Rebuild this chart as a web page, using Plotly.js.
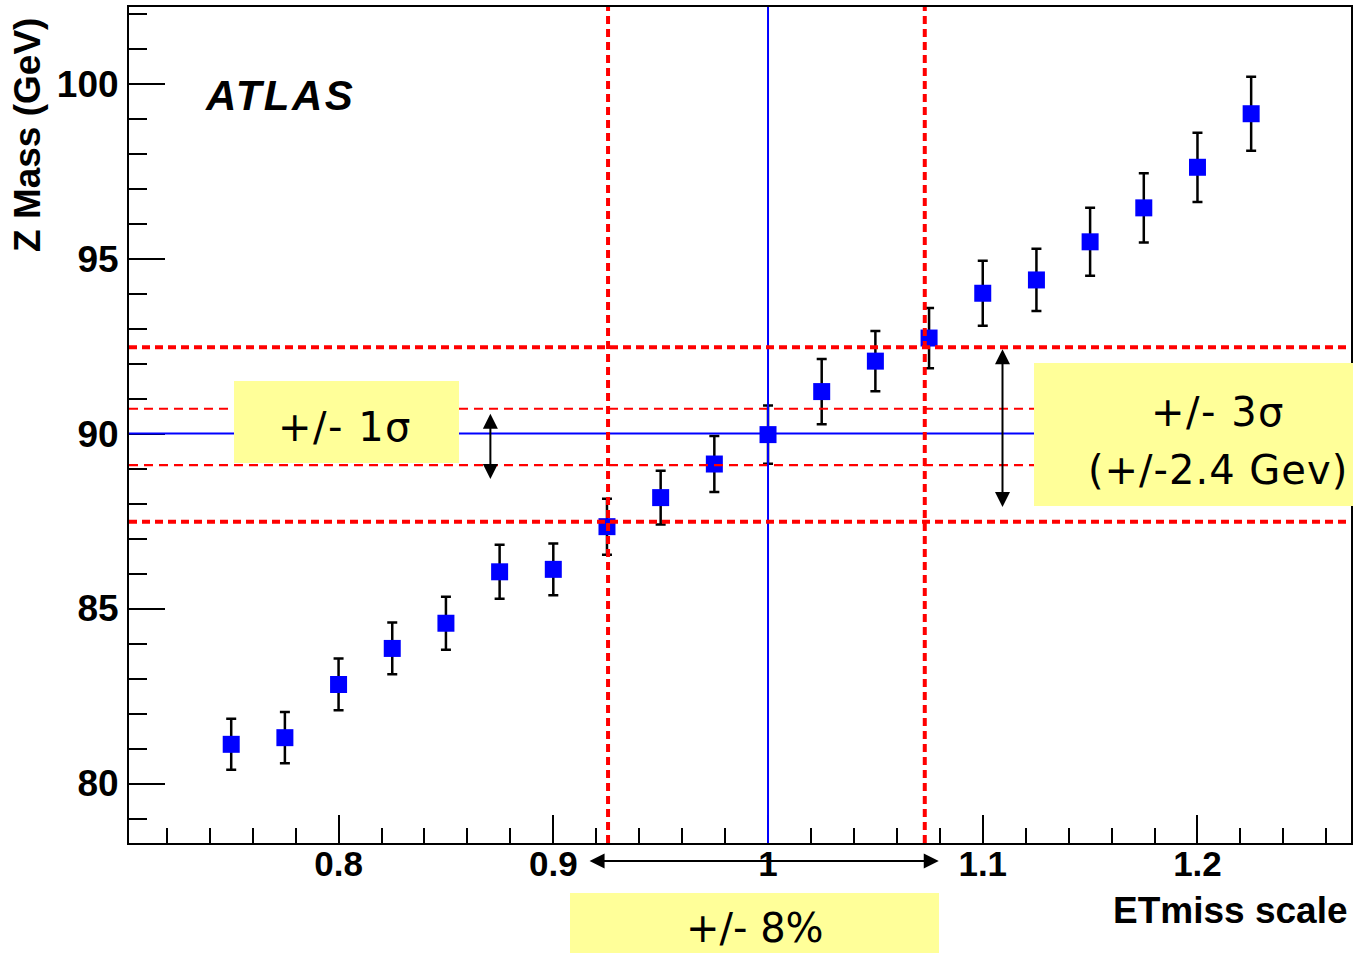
<!DOCTYPE html>
<html>
<head>
<meta charset="utf-8">
<script src="https://cdn.plot.ly/plotly-3.0.1.min.js"></script>
<style>
html,body{margin:0;padding:0;background:#fff;}
#chart{width:1353px;height:953px;}
</style>
</head>
<body>
<div id="chart"></div>
<script>
// ---- data ----
const etScale  = [0.75, 0.775, 0.8, 0.825, 0.85, 0.875, 0.9, 0.925, 0.95, 0.975,
                  1.0, 1.025, 1.05, 1.075, 1.1, 1.125, 1.15, 1.175, 1.2, 1.225];
const zMass    = [81.12, 81.31, 82.83, 83.86, 84.58, 86.05, 86.12, 87.34, 88.17, 89.13,
                  89.97, 91.2, 92.07, 92.73, 94.01, 94.39, 95.48, 96.45, 97.61, 99.14];
const zMassErr = [0.73, 0.73, 0.74, 0.74, 0.76, 0.77, 0.74, 0.80, 0.77, 0.80,
                  0.83, 0.93, 0.86, 0.86, 0.93, 0.89, 0.97, 0.99, 0.99, 1.06];

// reference lines
const nominalScale = 1.0;
const nominalMass  = 90;
const scaleBand    = [0.9255, 1.073];   // +/- 8% vertical lines
const mass1Sigma   = [89.1, 90.71];     // +/- 1 sigma
const mass3Sigma   = [87.48, 92.47];    // +/- 3 sigma
const arrow1Sigma  = {x: 0.8707, y: [90.57, 88.66]};
const arrow3Sigma  = {x: 1.1092, y: [92.41, 87.86]};
const arrow8pct    = {x: [0.9162, 1.0795]};

// text labels
const labels = {
  atlas: 'ATLAS',
  oneSigma: '+/- 1σ',
  threeSigma: '+/- 3σ',
  threeSigmaGev: '(+/-2.4 Gev)',
  eightPct: '+/- 8%',
  xTitle: 'ETmiss scale',
  yTitle: 'Z Mass (GeV)'
};

// ---- layout helpers (pixel -> paper) ----
const L = 129, R = 1351, T = 7, B = 843;
const px = v => (v - L) / (R - L);
const py = v => (B - v) / (B - T);

const trace = {
  x: etScale, y: zMass, type: 'scatter', mode: 'markers',
  marker: {symbol: 'square', size: 17, color: '#0000ff', line: {width: 0}},
  error_y: {type: 'data', array: zMassErr, visible: true, color: '#000', thickness: 2.5, width: 5},
  cliponaxis: false,
  showlegend: false
};

const shapes = [];
const red = '#ff0000';
// thin 1 sigma
mass1Sigma.forEach(v => shapes.push({type: 'line', layer: 'above', xref: 'paper', x0: 0, x1: 1, yref: 'y', y0: v, y1: v,
  line: {color: red, width: 2.2, dash: '9px,6px'}}));
// blue nominal lines
shapes.push({type: 'line', layer: 'above', xref: 'paper', x0: 0, x1: 1, yref: 'y', y0: nominalMass, y1: nominalMass,
  line: {color: '#0000ff', width: 2}});
shapes.push({type: 'line', layer: 'above', xref: 'x', x0: nominalScale, x1: nominalScale, yref: 'paper', y0: 0, y1: 1,
  line: {color: '#0000ff', width: 2}});
// thick 3 sigma
mass3Sigma.forEach(v => shapes.push({type: 'line', layer: 'above', xref: 'paper', x0: 0, x1: 1, yref: 'y', y0: v, y1: v,
  line: {color: red, width: 4, dash: '8px,5px'}}));
// thick scale band
scaleBand.forEach(v => shapes.push({type: 'line', layer: 'above', xref: 'x', x0: v, x1: v, yref: 'paper', y0: 0, y1: 1,
  line: {color: red, width: 4, dash: '8px,5px'}}));
// yellow boxes
const yellow = '#ffff99';
const box = (x0, x1, y0, y1) => ({type: 'rect', layer: 'above', xref: 'paper', yref: 'paper',
  x0: px(x0), x1: px(x1), y0: py(y1), y1: py(y0), fillcolor: yellow, line: {width: 0}});
shapes.push(box(234, 459, 381, 463));
shapes.push(box(1034, 1355, 363, 506));
shapes.push(box(570, 939, 893, 960));

const boxFont = s => ({family: 'DejaVu Sans, Verdana, sans-serif', size: s, color: '#000'});
const sp = (t, ls) => '<span style="letter-spacing:' + ls + 'px">' + t + '</span>';

const annotations = [
  {xref: 'paper', yref: 'paper', x: px(203), y: py(95), xanchor: 'left', yanchor: 'middle', showarrow: false,
   text: sp(labels.atlas, 2.5), font: {family: 'Liberation Sans, Arial, sans-serif', size: 42, weight: 'bold', style: 'italic', color: '#000'}},
  {xref: 'paper', yref: 'paper', x: px(345), y: py(427), xanchor: 'center', yanchor: 'middle', showarrow: false,
   text: sp(labels.oneSigma, 1.5), font: boxFont(40)},
  {xref: 'paper', yref: 'paper', x: px(1218), y: py(412), xanchor: 'center', yanchor: 'middle', showarrow: false,
   text: sp(labels.threeSigma, 1.5), font: boxFont(40)},
  {xref: 'paper', yref: 'paper', x: px(1218), y: py(470), xanchor: 'center', yanchor: 'middle', showarrow: false,
   text: sp(labels.threeSigmaGev, 1), font: boxFont(40)},
  {xref: 'paper', yref: 'paper', x: px(755), y: py(928), xanchor: 'center', yanchor: 'middle', showarrow: false,
   text: labels.eightPct, font: boxFont(40)},
  {xref: 'paper', yref: 'paper', x: px(1349), y: py(910), xanchor: 'right', yanchor: 'middle', showarrow: false,
   text: labels.xTitle, font: {family: 'Liberation Sans, Arial, sans-serif', size: 37, weight: 'bold', color: '#000'}},
  {xref: 'paper', yref: 'paper', x: px(27), y: py(135), xanchor: 'center', yanchor: 'middle', showarrow: false,
   textangle: -90, text: labels.yTitle, font: {family: 'Liberation Sans, Arial, sans-serif', size: 37, weight: 'bold', color: '#000'}},
  // arrows
  {xref: 'x', yref: 'y', x: arrow1Sigma.x, y: arrow1Sigma.y[0], axref: 'x', ayref: 'y', ax: arrow1Sigma.x, ay: arrow1Sigma.y[1],
   text: '', showarrow: true, arrowhead: 2, startarrowhead: 2, arrowside: 'end+start', arrowsize: 1.5, startarrowsize: 1.5, arrowwidth: 2, arrowcolor: '#000', standoff: 0, startstandoff: 0},
  {xref: 'x', yref: 'y', x: arrow3Sigma.x, y: arrow3Sigma.y[0], axref: 'x', ayref: 'y', ax: arrow3Sigma.x, ay: arrow3Sigma.y[1],
   text: '', showarrow: true, arrowhead: 2, startarrowhead: 2, arrowside: 'end+start', arrowsize: 1.5, startarrowsize: 1.5, arrowwidth: 2, arrowcolor: '#000', standoff: 0, startstandoff: 0},
  {xref: 'x', yref: 'paper', x: arrow8pct.x[1], y: py(861), axref: 'x', ayref: 'pixel', ax: arrow8pct.x[0], ay: 0,
   text: '', showarrow: true, arrowhead: 2, startarrowhead: 2, arrowside: 'end+start', arrowsize: 1.5, startarrowsize: 1.5, arrowwidth: 2, arrowcolor: '#000', standoff: 0, startstandoff: 0}
];

const tickFontX = {family: 'Liberation Sans, Arial, sans-serif', size: 35, weight: 'bold', color: '#000'};
const tickFontY = {family: 'Liberation Sans, Arial, sans-serif', size: 37, weight: 'bold', color: '#000'};

const layout = {
  width: 1353, height: 953,
  margin: {l: L, r: 1353 - R, t: T, b: 953 - B, pad: 0},
  paper_bgcolor: '#fff', plot_bgcolor: '#fff',
  showlegend: false,
  xaxis: {
    range: [0.7024, 1.2715], dtick: 0.1, tick0: 0,
    showline: true, linecolor: '#000', linewidth: 2, mirror: true,
    ticks: 'inside', ticklen: 28, tickwidth: 2, tickcolor: '#000',
    minor: {dtick: 0.02, tick0: 0, ticks: 'inside', ticklen: 15, tickwidth: 2, tickcolor: '#000', showgrid: false},
    showgrid: false, zeroline: false, tickfont: tickFontX, ticklabelstandoff: -11
  },
  yaxis: {
    range: [78.30, 102.19], dtick: 5, tick0: 0,
    showline: true, linecolor: '#000', linewidth: 2, mirror: true,
    ticks: 'inside', ticklen: 36, tickwidth: 2, tickcolor: '#000',
    minor: {dtick: 1, tick0: 0, ticks: 'inside', ticklen: 18, tickwidth: 2, tickcolor: '#000', showgrid: false},
    showgrid: false, zeroline: false, tickfont: tickFontY, ticklabelstandoff: 1
  },
  shapes: shapes,
  annotations: annotations
};

Plotly.newPlot('chart', [trace], layout, {displayModeBar: false, staticPlot: true});
</script>
</body>
</html>
